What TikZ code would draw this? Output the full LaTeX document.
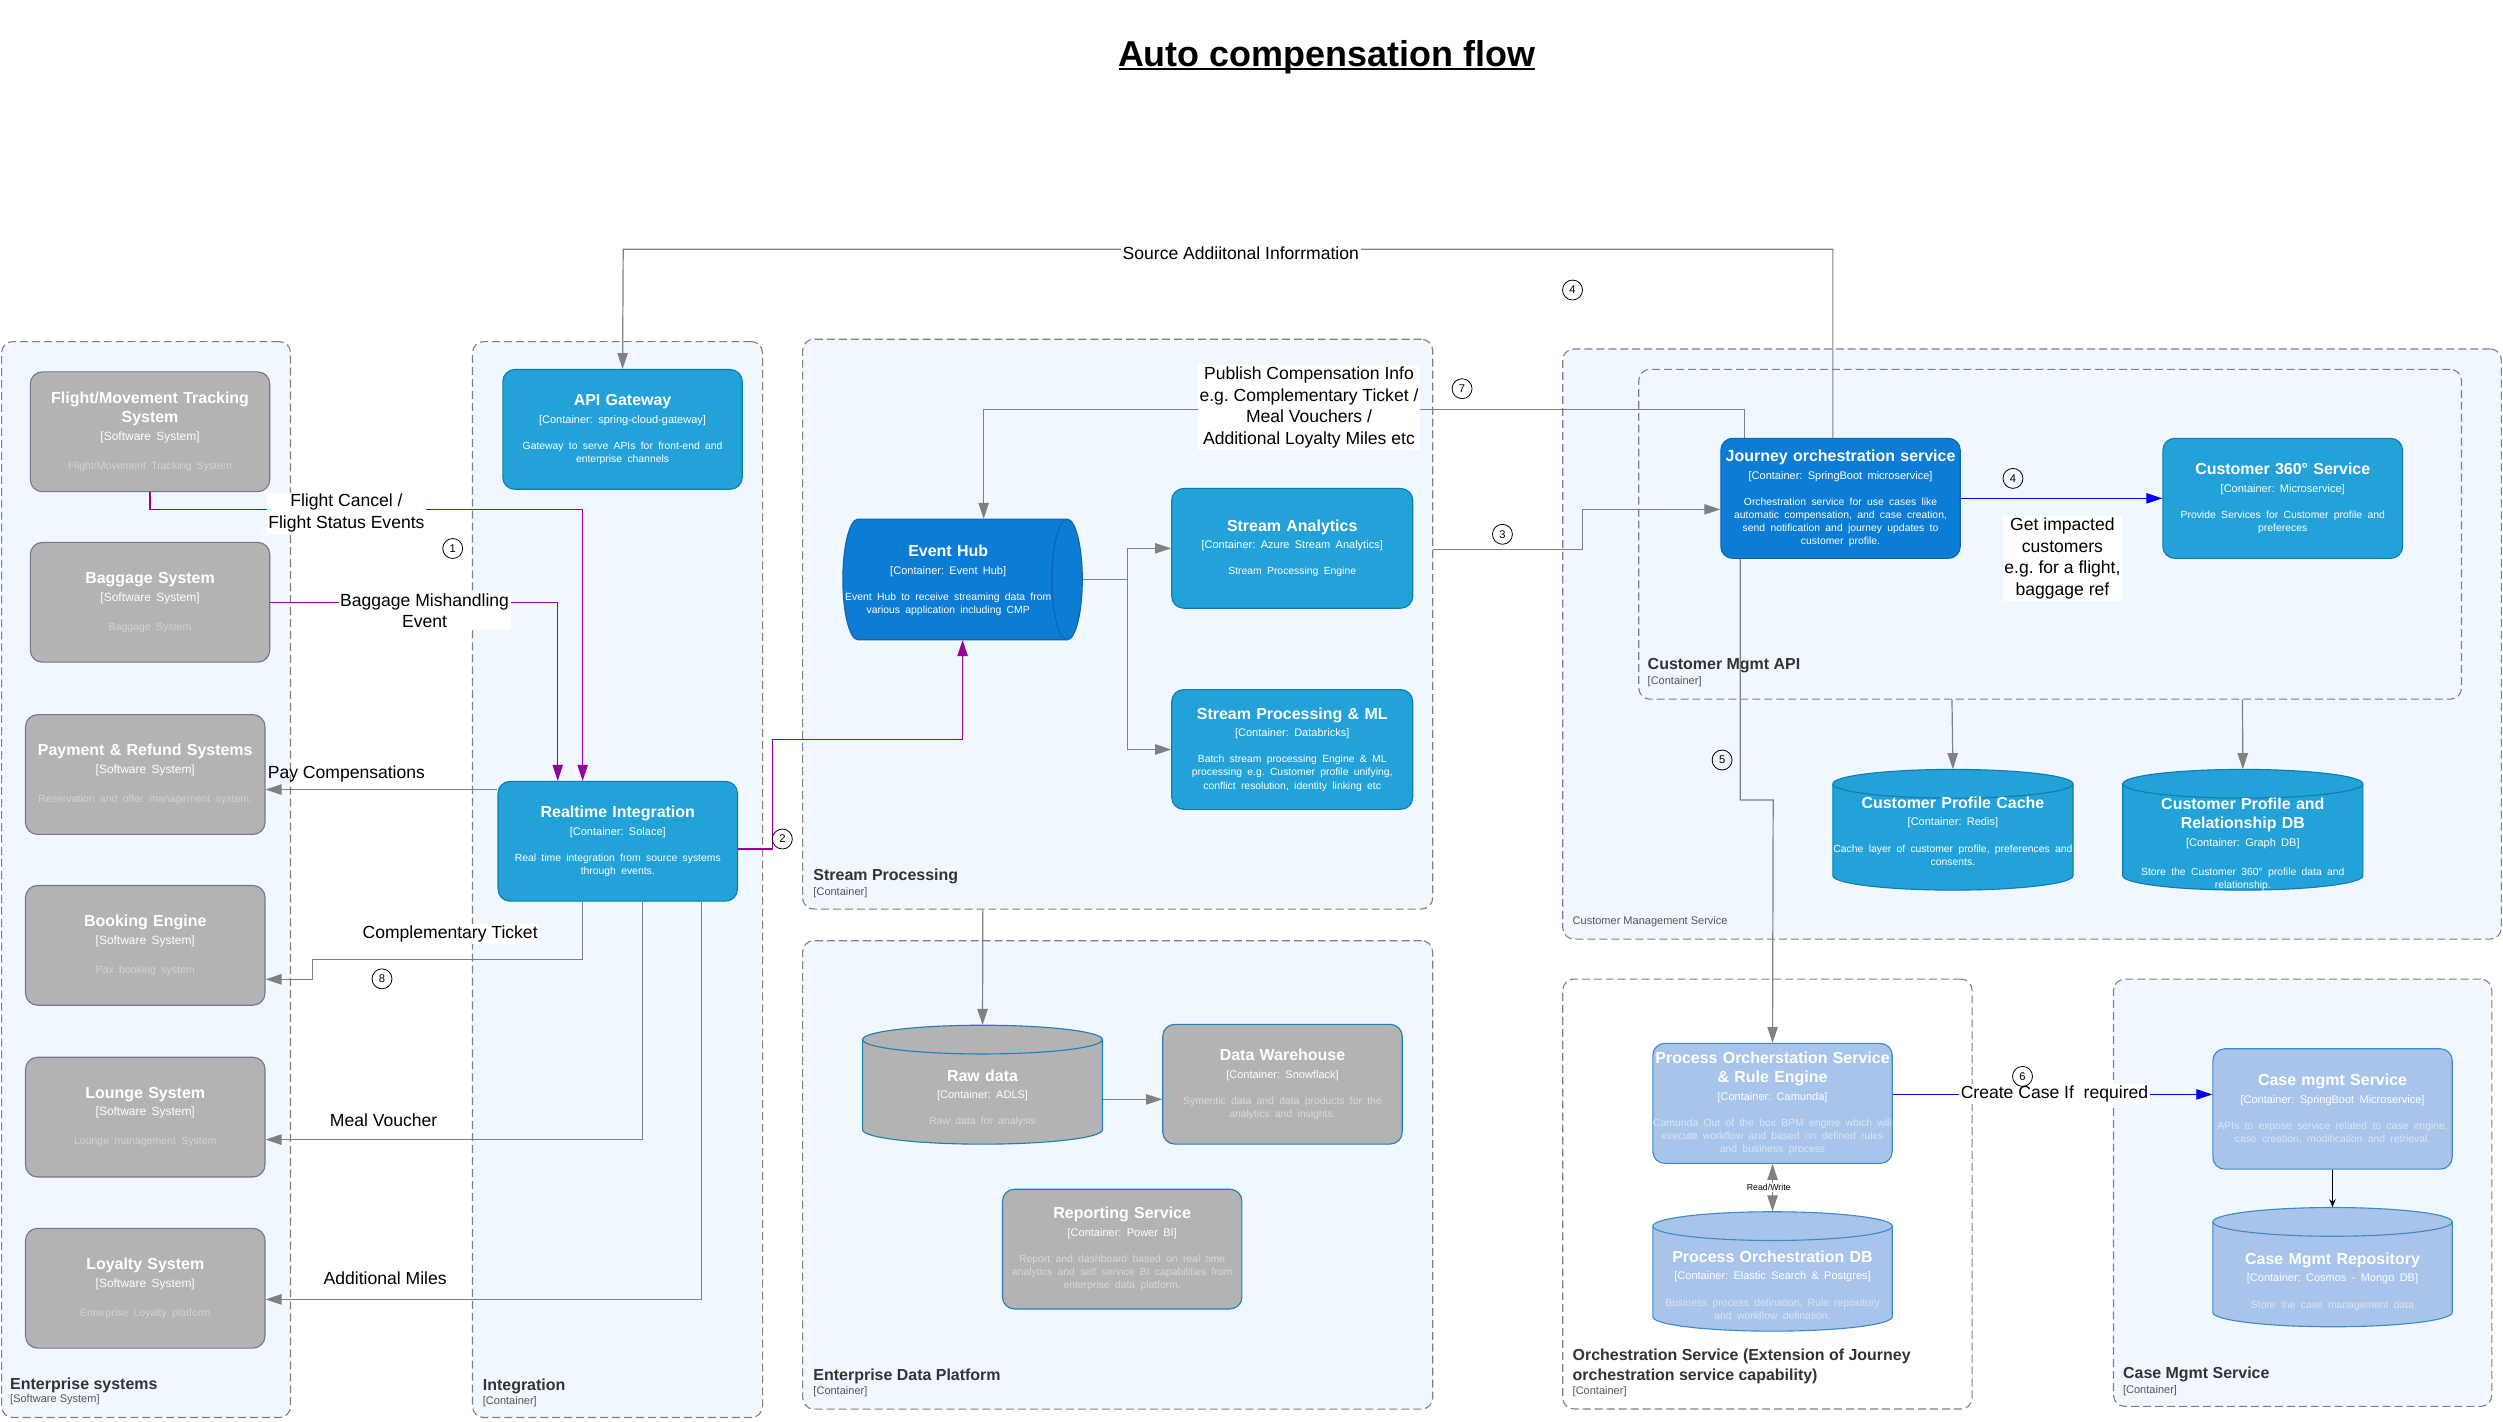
\documentclass[tikz,border=0pt]{standalone}
\usepackage{fontspec}
\setmainfont{Liberation Sans}
\usetikzlibrary{arrows.meta,calc}
\frenchspacing
\definecolor{grpfill}{HTML}{F0F7FE}
\definecolor{grpdraw}{HTML}{808080}
\definecolor{grayfill}{HTML}{B3B3B3}
\definecolor{graydraw}{HTML}{7A7392}
\definecolor{graydesc}{HTML}{D4D4D4}
\definecolor{cblue}{HTML}{23A2D9}
\definecolor{cbluedraw}{HTML}{0E7DAD}
\definecolor{dblue}{HTML}{0C7CD5}
\definecolor{dbluedraw}{HTML}{0B65B0}
\definecolor{lblue}{HTML}{A9C4EB}
\definecolor{lbluedraw}{HTML}{3D8BC4}
\definecolor{lbdesc}{HTML}{DCE6F5}
\definecolor{edpdraw}{HTML}{1F7FB8}
\definecolor{edpdesc}{HTML}{DADADA}
\definecolor{arrgray}{HTML}{808080}
\definecolor{purp}{HTML}{990099}
\definecolor{pblue}{HTML}{0000FF}
\definecolor{glabc}{HTML}{333333}
\definecolor{gsubc}{HTML}{555555}
\colorlet{descc}{white}
\newcommand\cfsetup{\frenchspacing\leftskip=-30pt plus 1fil\rightskip=-30pt plus 1fil\parfillskip=0pt\parindent=0pt\emergencystretch=0pt}
\newcommand\cft[3]{%
 \cfsetup
 {\fontsize{10}{12.2}\selectfont\bfseries #1\par}%
 {\fontsize{6.9}{11}\selectfont #2\par}%
 \vspace{8.1pt}%
 {\fontsize{6.5}{8.2}\selectfont\color{descc}#3\par}}
\newcommand\sst[2]{%
 \cfsetup
 {\fontsize{10}{12.2}\selectfont\bfseries #1\par}%
 {\fontsize{7.5}{11}\selectfont [Software System]\par}%
 \vspace{10pt}%
 {\fontsize{6.6}{8.2}\selectfont\color{descc}#2\par}}
\newcommand\vcyl[7]{%
 \pgfmathsetmacro\cxl{#1-#3/2}\pgfmathsetmacro\cxr{#1+#3/2}%
 \pgfmathsetmacro\cyt{-#2+#4/2-#5}\pgfmathsetmacro\cyb{-#2-#4/2+#5}%
 \pgfmathsetmacro\crx{#3/2}%
 \path[fill=#6,draw=#7,line width=0.7pt] (\cxl,\cyt) -- (\cxl,\cyb)
   arc[start angle=180,end angle=360,x radius=\crx pt,y radius=#5pt] -- (\cxr,\cyt)
   arc[start angle=0,end angle=180,x radius=\crx pt,y radius=#5pt] -- cycle;
 \draw[draw=#7,line width=0.7pt] (\cxl,\cyt) arc[start angle=180,end angle=360,x radius=\crx pt,y radius=#5pt];}
\begin{document}
\begin{tikzpicture}[x=1pt,y=1pt,
  grp/.style={draw=grpdraw, dash pattern=on 5pt off 2.5pt, line width=0.7pt, rounded corners=7pt, fill=grpfill, inner sep=0pt},
  glab/.style={font=\fontsize{10}{12.4}\selectfont\bfseries, text=glabc, inner sep=0pt, anchor=west, align=left},
  gsub/.style={font=\fontsize{6.9}{8}\selectfont, text=gsubc, inner sep=0pt, anchor=west},
  basebox/.style={rectangle, rounded corners=7.5pt, line width=0.7pt, minimum width=150pt, minimum height=75pt, text width=150pt, align=center, text=white, inner sep=0pt},
  gbox/.style={basebox, fill=grayfill, draw=graydraw, execute at begin node={\colorlet{descc}{graydesc}}},
  cbox/.style={basebox, fill=cblue, draw=cbluedraw, execute at begin node={\colorlet{descc}{white}}},
  dbox/.style={basebox, fill=dblue, draw=dbluedraw, execute at begin node={\colorlet{descc}{white}}},
  lbox/.style={basebox, fill=lblue, draw=lbluedraw, execute at begin node={\colorlet{descc}{lbdesc}}},
  ebox/.style={basebox, fill=grayfill, draw=edpdraw, execute at begin node={\colorlet{descc}{edpdesc}}},
  anch/.style={rectangle, draw=none, inner sep=0pt, minimum width=150pt},
  ctext/.style={text width=150pt, align=center, text=white, inner sep=0pt},
  garr/.style={draw=arrgray, line width=0.75pt, -{Triangle[length=10pt,width=6.5pt]}},
  parr/.style={draw=purp, line width=0.75pt, -{Triangle[length=10pt,width=6.5pt]}},
  barr/.style={draw=pblue, line width=0.75pt, -{Triangle[length=10pt,width=6.5pt]}},
  karr/.style={draw=black, line width=0.5pt, -{Stealth[length=5pt,width=4pt]}},
  lab/.style={font=\fontsize{11}{13.6}\selectfont, align=center, inner sep=1pt, text=black},
  wlab/.style={lab, fill=white},
  circ/.style={circle, draw=black, line width=0.5pt, inner sep=0pt, minimum size=12.5pt, font=\fontsize{7}{8}\selectfont}
]
\path[fill=white] (0,0) rectangle (1568,-890.2);
\useasboundingbox (0,0) rectangle (1568,-890.2);

% title
\node[inner sep=0pt, anchor=base, font=\fontsize{22.5}{26}\selectfont\bfseries] (T) at (831,-41.8) {Auto compensation flow};
\draw[line width=1.2pt] ($(T.base west)+(0.5,-1.2)$) -- ($(T.base east)+(-0.5,-1.2)$);

% groups
\node[grp, minimum width=181pt, minimum height=674pt] (gES) at (91.5,-551) {};
\node[grp, minimum width=181.7pt, minimum height=674pt] (gINT) at (386.85,-551) {};
\node[grp, minimum width=394.7pt, minimum height=357pt] (gSP) at (700.15,-391) {};
\node[grp, minimum width=394.7pt, minimum height=293.4pt] (gEDP) at (700.15,-736) {};
\node[grp, minimum width=588pt, minimum height=369.7pt] (gCMS) at (1273,-403.45) {};
\node[grp, minimum width=515.4pt, minimum height=206.6pt] (gAPI) at (1284.3,-334.7) {};
\node[grp, fill=white, minimum width=256.4pt, minimum height=269.3pt] (gORC) at (1107.2,-748) {};
\node[grp, minimum width=237pt, minimum height=267.6pt] (gCASE) at (1442.5,-747.2) {};

\node[glab] (gESl) at (6.2,-867.7) {Enterprise systems};
\node[gsub] (gESs) at (6.2,-877) {[Software System]};
\node[glab] (gINTl) at (302.3,-868.2) {Integration};
\node[gsub] (gINTs) at (302.3,-878.3) {[Container]};
\node[glab] (gSPl) at (509.4,-549) {Stream Processing};
\node[gsub] (gSPs) at (509.4,-559) {[Container]};
\node[glab] (gEDPl) at (509.4,-862) {Enterprise Data Platform};
\node[gsub] (gEDPs) at (509.4,-872) {[Container]};
\node[gsub] (gCMSl) at (985,-577.6) {Customer Management Service};
\node[glab] (gAPIl) at (1032,-417) {Customer Mgmt API};
\node[gsub] (gAPIs) at (1032,-427) {[Container]};
\node[glab] (gORCl) at (985,-856.2) {Orchestration Service (Extension of Journey\\orchestration service capability)};
\node[gsub] (gORCs) at (985,-872) {[Container]};
\node[glab] (gCASEl) at (1329.8,-861) {Case Mgmt Service};
\node[gsub] (gCASEs) at (1329.8,-871) {[Container]};

% cylinders (shapes)
\vcyl{615.5}{679.5}{150.3}{74.5}{9}{grayfill}{edpdraw}
\vcyl{1223.4}{519.8}{150.4}{75.6}{9}{cblue}{cbluedraw}
\vcyl{1405}{519.8}{150.4}{75.6}{9}{cblue}{cbluedraw}
\vcyl{1110.4}{796.5}{150}{74.8}{9}{lblue}{lbluedraw}
\vcyl{1461.2}{793.8}{150}{74.7}{9}{lblue}{lbluedraw}
% event hub horizontal cylinder
\path[fill=dblue,draw=dbluedraw,line width=0.7pt] (537.5,-325.2) -- (668.5,-325.2)
  arc[start angle=90,end angle=-90,x radius=9.5pt,y radius=37.8pt] -- (537.5,-400.8)
  arc[start angle=270,end angle=90,x radius=9.5pt,y radius=37.8pt] -- cycle;
\draw[dbluedraw,line width=0.7pt] (668.5,-325.2) arc[start angle=90,end angle=270,x radius=9.5pt,y radius=37.8pt];

% enterprise systems
\node[gbox] (FMT) at (94,-270.5) {\sst{Flight/Movement Tracking\\System}{Flight/Movement Tracking System}};
\node[gbox] (BAG) at (94,-377.3) {\sst{Baggage System}{Baggage System}};
\node[gbox] (PAY) at (91,-485.2) {\sst{Payment \& Refund Systems}{Reservation and offer management system.}};
\node[gbox] (BOOK) at (91,-592.2) {\sst{Booking Engine}{Pax booking system}};
\node[gbox] (LOUNGE) at (91,-699.8) {\sst{Lounge System}{Lounge management System}};
\node[gbox] (LOY) at (91,-807) {\sst{Loyalty System}{Enterprise Loyalty platform}};

% integration
\node[cbox] (APIGW) at (390,-269) {\cft{API Gateway}{[Container: spring-cloud-gateway]}{Gateway to serve APIs for front-end and\\enterprise channels}};
\node[cbox] (RTI) at (387,-527) {\cft{Realtime Integration}{[Container: Solace]}{Real time integration from source systems\\through events.}};

% stream processing
\node[anch, minimum height=75.6pt] (EH) at (603,-363) {};
\node[ctext] (EHt) at (594,-363.6) {\cft{Event Hub}{[Container: Event Hub]}{Event Hub to receive streaming data from\\various application including CMP}};
\node[cbox, minimum width=151pt] (SA) at (809.5,-343.5) {\cft{Stream Analytics}{[Container: Azure Stream Analytics]}{Stream Processing Engine}};
\node[cbox, minimum width=151pt] (SPML) at (809.5,-469.5) {\cft{Stream Processing \& ML}{[Container: Databricks]}{Batch stream processing Engine \& ML\\processing e.g. Customer profile unifying,\\conflict resolution, identity linking etc}};

% enterprise data platform
\node[anch, minimum width=150.3pt, minimum height=74.5pt] (RAW) at (615.5,-679.5) {};
\node[ctext] (RAWt) at (615.5,-688) {\colorlet{descc}{edpdesc}\cft{Raw data}{[Container: ADLS]}{Raw data for analysis}};
\node[ebox] (DW) at (803.4,-679.2) {\cft{Data Warehouse}{[Container: Snowflack]}{Symentic data and data products for the\\analytics and insights.}};
\node[ebox] (REP) at (703,-782.5) {\cft{Reporting Service}{[Container: Power BI]}{Report and dashboard based on real time\\analytics and self service BI capabilities from\\enterprise data platform.}};

% customer management
\node[dbox, minimum height=75.2pt] (JOS) at (1153,-312.2) {\cft{Journey orchestration service}{[Container: SpringBoot microservice]}{Orchestration service for use cases like\\automatic compensation, and case creation,\\send notification and journey updates to\\customer profile.}};
\node[cbox, minimum width=150.2pt, minimum height=75.2pt] (C360) at (1430,-312.2) {\cft{Customer 360° Service}{[Container: Microservice]}{Provide Services for Customer profile and\\prefereces}};
\node[anch, minimum width=150.4pt, minimum height=75.6pt] (CACHE) at (1223.4,-519.8) {};
\node[ctext] (CACHEt) at (1223.4,-520.6) {\cft{Customer Profile Cache}{[Container: Redis]}{Cache layer of customer profile, preferences and\\consents.}};
\node[anch, minimum width=150.4pt, minimum height=75.6pt] (CPDB) at (1405,-519.8) {};
\node[ctext] (CPDBt) at (1405,-529) {\cft{Customer Profile and\\Relationship DB}{[Container: Graph DB]}{\vspace{2pt}Store the Customer 360° profile data and\\relationship.}};

% orchestration
\node[lbox, minimum height=75.2pt] (POS) at (1110.4,-691.2) {\cft{Process Orcherstation Service\\\& Rule Engine}{[Container: Camunda]}{Camunda Out of the box BPM engine which will\\execute workflow and based on defined rules\\and business process}};
\node[anch, minimum height=74.8pt] (POD) at (1110.4,-796.5) {};
\node[ctext] (PODt) at (1110.4,-805) {\colorlet{descc}{lbdesc}\cft{Process Orchestration DB}{[Container: Elastic Search \& Postgres]}{Business process defination, Rule repository\\and workflow defination.}};

% case mgmt
\node[lbox, minimum height=75.4pt] (CMS) at (1461.2,-694.7) {\cft{Case mgmt Service}{[Container: SpringBoot Microservice]}{APIs to expose service related to case engine,\\case creation, modification and retrieval.}};
\node[anch, minimum height=74.7pt] (CMR) at (1461.2,-793.8) {};
\node[ctext] (CMRt) at (1461.2,-802.8) {\colorlet{descc}{lbdesc}\cft{Case Mgmt Repository}{[Container: Cosmos - Mongo DB]}{Store the case management data}};

% connectors
\draw[parr] (FMT.south) |- (365,-319) -- (365,0 |- RTI.north);
\draw[parr] (BAG.east) -| (349.4,0 |- RTI.north);
\draw[garr] (RTI.west |- 0,-494.6) -- (PAY.east |- 0,-494.6);
\draw[garr] (365,0 |- RTI.south) |- (195.7,-600.9) |- (BOOK.east |- 0,-613.5);
\draw[garr] (402.7,0 |- RTI.south) |- (LOUNGE.east |- 0,-713.9);
\draw[garr] (439.5,0 |- RTI.south) |- (LOY.east |- 0,-814);
\draw[parr] (RTI.east |- 0,-531.9) -| (483.8,-463.3) -| (EH.south);
\draw[garr] (1092.6,0 |- JOS.north) |- (616.2,-256.4) -- (616.2,0 |- EH.north);
\draw[garr] (gSP.east |- 0,-344.2) -| (991.3,-319.1) -- (JOS.west |- 0,-319.1);
\draw[garr] (1148.2,0 |- JOS.north) |- (390.4,-156.2) -- (APIGW.north);
\draw[garr] (1090.1,0 |- JOS.south) |- (1110.8,-501.2) -- (POS.north);
\draw[barr] (POS.east |- 0,-685.6) -- (CMS.west |- 0,-685.6);
\draw[barr] (JOS.east) -- (C360.west);
\draw[garr] (1222.8,0 |- gAPI.south) -- (CACHE.north);
\draw[garr] (1404.8,0 |- gAPI.south) -- (CPDB.north);
\draw[karr] (CMS.south) -- (CMR.north);
\draw[garr] (615.7,0 |- gSP.south) -- (RAW.north);
\draw[garr] (RAW.east |- 0,-688.7) -- (DW.west |- 0,-688.7);
\draw[garr] (EH.east) -- (706.3,0 |- EH.east) |- (SA.west);
\draw[garr] (EH.east) -- (706.3,0 |- EH.east) |- (SPML.west);
\draw[garr, {Triangle[length=10pt,width=6.5pt]}-{Triangle[length=10pt,width=6.5pt]}] (POS.south) -- (POD.north);

% labels
\node[wlab] (L1) at (217,-321.5) {Flight Cancel /\\Flight Status Events};
\node[wlab] (L2) at (266,-382.5) {Baggage Mishandling\\Event};
\node[lab] (L3) at (217,-485.1) {Pay Compensations};
\node[wlab] (L4) at (282,-585) {Complementary Ticket};
\node[lab] (L5) at (240.3,-702) {Meal Voucher};
\node[lab] (L6) at (241.3,-801) {Additional Miles};
\node[wlab] (L7) at (820,-255.3) {Publish Compensation Info\\e.g. Complementary Ticket /\\Meal Vouchers /\\Additional Loyalty Miles etc};
\node[wlab] (L8) at (777.3,-158.7) {Source Addiitonal Inforrmation};
\node[wlab] (L9) at (1292,-349.8) {Get impacted\\customers\\e.g. for a flight,\\baggage ref};
\node[wlab] (L10) at (1287,-685.2) {Create Case If~ required};
\node[fill=white, inner sep=0.8pt, font=\fontsize{5.5}{6}\selectfont] (RW) at (1108,-744) {Read/Write};

% step circles
\node[circ] (c1) at (283.6,-343.6) {1};
\node[circ] (c2) at (490.1,-525.6) {2};
\node[circ] (c3) at (941.2,-334.7) {3};
\node[circ] (c4a) at (985.1,-181.7) {4};
\node[circ] (c4b) at (1261,-299.7) {4};
\node[circ] (c5) at (1078.8,-476.1) {5};
\node[circ] (c6) at (1267,-674.3) {6};
\node[circ] (c7) at (915.9,-243.5) {7};
\node[circ] (c8) at (239.3,-613.2) {8};
\end{tikzpicture}
\end{document}
